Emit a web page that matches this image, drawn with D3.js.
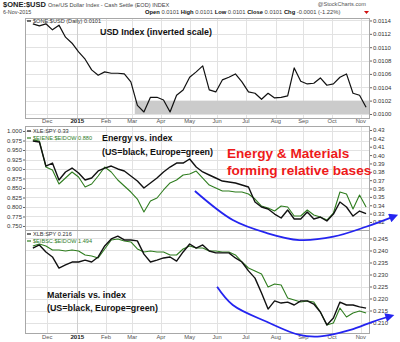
<!DOCTYPE html>
<html><head><meta charset="utf-8">
<script src="https://cdn.jsdelivr.net/npm/d3@7"></script>
<style>
html,body{margin:0;padding:0;background:#fff;}
svg{display:block;font-family:"Liberation Sans",Arial,sans-serif;}
</style></head><body>
<svg id="chart" width="400" height="342"></svg>
<script>
// Weekly (Friday) closes, 14-Nov-2014 .. 6-Nov-2015
const weeks = d3.timeFriday.range(new Date(2014, 10, 14), new Date(2015, 10, 7));

// $ONE:$USD
const usd = [0.01135,0.01132,0.01135,0.01126,0.01133,0.01115,0.01106,0.01093,0.01082,0.01066,
  0.01058,0.01063,0.01061,0.01061,0.01060,0.01048,0.01013,0.01003,0.01025,0.01025,
  0.01021,0.01003,0.01028,0.01036,0.01055,0.01063,0.01072,0.01036,0.01033,0.01051,
  0.01055,0.01060,0.01048,0.01033,0.01031,0.01022,0.01031,0.01024,0.01025,0.01027,
  0.01069,0.01049,0.01045,0.01046,0.01054,0.01043,0.01045,0.01055,0.01060,0.01031,
  0.01028,0.01010];
// XLE:SPY (US energy vs. S&P 500)
const xle = [0.4168,0.4156,0.3869,0.3905,0.3702,0.3798,0.3845,0.3786,0.3702,0.3726,
  0.3810,0.3845,0.3869,0.3834,0.3810,0.3750,0.3690,0.3606,0.3666,0.3726,
  0.3798,0.3857,0.3905,0.3905,0.3953,0.3857,0.3798,0.3762,0.3726,0.3690,
  0.3678,0.3666,0.3642,0.3618,0.3439,0.3379,0.3355,0.3295,0.3248,0.3343,
  0.3236,0.3236,0.3319,0.3236,0.3259,0.3212,0.3295,0.3439,0.3379,0.3271,
  0.3331,0.33];
// $EIENE:$EIDOW (Europe energy vs. Europe index)
const eiene = [1.0887,1.0856,1.0046,0.9952,0.9516,0.9703,0.9890,0.9734,0.9423,0.9516,
  0.9766,1.0046,0.9890,0.9641,0.9454,0.9267,0.9049,0.8644,0.8987,0.9080,
  0.9330,0.9548,0.9641,0.9797,0.9828,0.9921,0.9703,0.9485,0.9392,0.9298,
  0.9298,0.9267,0.9267,0.9205,0.9049,0.8831,0.8769,0.8675,0.8831,0.8800,
  0.8520,0.8520,0.8707,0.8551,0.8489,0.8395,0.8613,0.9267,0.9205,0.8738,
  0.9174,0.880];
// XLB:SPY (US materials vs. S&P 500)
const xlb = [0.2410,0.2423,0.2394,0.2373,0.2327,0.2340,0.2352,0.2352,0.2360,0.2352,
  0.2373,0.2419,0.2448,0.2460,0.2444,0.2444,0.2440,0.2385,0.2352,0.2360,
  0.2369,0.2373,0.2356,0.2394,0.2427,0.2410,0.2423,0.2398,0.2390,0.2390,
  0.2390,0.2369,0.2352,0.2315,0.2285,0.2223,0.2156,0.2190,0.2181,0.2185,
  0.2173,0.2190,0.2190,0.2177,0.2144,0.2090,0.2119,0.2185,0.2173,0.2173,
  0.2165,0.216];
// $EIBSC:$EIDOW (Europe materials vs. Europe index)
const eibsc = [1.6889,1.6948,1.6889,1.6773,1.6773,1.6744,1.6773,1.6744,1.6628,1.6599,
  1.6540,1.6802,1.7064,1.7093,1.7035,1.7006,1.6802,1.6715,1.6744,1.6715,
  1.6715,1.6628,1.6628,1.6802,1.6889,1.6831,1.6831,1.6744,1.6744,1.6715,
  1.6715,1.6628,1.6424,1.6249,1.6162,1.6075,1.5697,1.5784,1.5755,1.5377,
  1.5318,1.5260,1.5289,1.5260,1.4969,1.4591,1.4649,1.5086,1.4824,1.4940,
  1.4998,1.494];

// axis ticks and labels
const monthStarts = d3.timeMonth.range(new Date(2014, 11, 1), new Date(2015, 10, 2));
const monthLabels = ["Dec","2015","Feb","Mar","Apr","May","Jun","Jul","Aug","Sep","Oct","Nov"];
const usdTicks = [0.0100,0.0102,0.0104,0.0106,0.0108,0.0110,0.0112,0.0114];
const xleTicks = [0.32,0.33,0.34,0.35,0.36,0.37,0.38,0.39,0.40,0.41,0.42,0.43];
const midLeftTicks = [0.750,0.775,0.800,0.825,0.850,0.875,0.900,0.925,0.950,0.975,1.000];
const xlbTicks = [0.210,0.215,0.220,0.225,0.230,0.235,0.240,0.245];
// support band on the dollar chart
const band = {from: new Date(2015, 2, 4), lo: 0.0100, hi: 0.0102};

const svg = d3.select("#chart");
const BLUE = "#2424f0", GREEN = "#2f7d1f", GRID = "#e2e2e2";

// trading-day x scale (weekends skipped)
const base = new Date(2014, 10, 6);
const tday = d => d3.timeDay.range(base, d).filter(t => t.getDay() % 6 !== 0).length;
const xs = d3.scaleLinear().domain([0, tday(new Date(2015, 10, 11))]).range([25, 370]);
const x = d => xs(tday(d));
const L = 25, R = 370;

const yUsd = d3.scaleLinear().domain([0.00994, 0.011437]).range([118, 18]);
const yXle = d3.scaleLinear().domain([0.31043, 0.43478]).range([230, 126]);
const yEiene = d3.scaleLinear().domain([0.80844, 1.13228]).range([230, 126]);
const yMidLeft = d3.scaleLinear().domain([0.73947, 1.01316]).range([230, 126]);
const yXlb = d3.scaleLinear().domain([0.20563, 0.24854]).range([333, 230]);
const yEibsc = d3.scaleLinear().domain([1.43584, 1.73545]).range([333, 230]);

const panels = [
  {top: 18, bottom: 118, y: yUsd, grid: usdTicks, ticks: usdTicks, fmt: d3.format(".4f")},
  {top: 126, bottom: 230, y: yMidLeft, grid: midLeftTicks, ticks: xleTicks, ry: yXle, fmt: d3.format(".2f")},
  {top: 230, bottom: 333, y: yXlb, grid: xlbTicks, ticks: xlbTicks, fmt: d3.format(".3f")}
];

const defs = svg.append("defs");
defs.append("marker").attr("id", "ah").attr("viewBox", "0 0 10 10")
  .attr("refX", 3).attr("refY", 5).attr("markerUnits", "userSpaceOnUse")
  .attr("markerWidth", 10).attr("markerHeight", 9).attr("orient", "auto")
  .append("path").attr("d", "M0,0 L10,5 L0,10 z").attr("fill", BLUE);

// panel backgrounds, grids, frames, right axes
panels.forEach((p, i) => {
  const g = svg.append("g");
  g.append("rect").attr("x", L).attr("y", p.top).attr("width", R - L).attr("height", p.bottom - p.top).attr("fill", "#fff");
  g.selectAll(".hg").data(p.grid).join("line")
    .attr("x1", L).attr("x2", R).attr("y1", d => Math.round(p.y(d)) + 0.5).attr("y2", d => Math.round(p.y(d)) + 0.5)
    .attr("stroke", GRID).attr("stroke-width", 1);
  g.selectAll(".vg").data(monthStarts).join("line")
    .attr("x1", d => Math.round(x(d)) + 0.5).attr("x2", d => Math.round(x(d)) + 0.5)
    .attr("y1", p.top).attr("y2", p.bottom)
    .attr("stroke", (d, j) => j === 1 ? "#cfcfcf" : GRID).attr("stroke-width", 1);
  if (i === 0) {
    g.append("rect").attr("x", x(band.from)).attr("width", R - x(band.from))
      .attr("y", yUsd(band.hi)).attr("height", yUsd(band.lo) - yUsd(band.hi)).attr("fill", "#cbcbcb");
  }
  const ry = p.ry || p.y;
  const ax = svg.append("g").attr("transform", `translate(${R},0)`)
    .call(d3.axisRight(ry).tickValues(p.ticks).tickFormat(p.fmt).tickSize(2).tickPadding(1));
  ax.select(".domain").remove();
  ax.selectAll("line").attr("stroke", "#666");
  ax.selectAll("text").attr("font-size", 6).attr("fill", "#333").attr("font-family", "Liberation Sans, Arial, sans-serif");
});

// left axis on the energy panel
const lax = svg.append("g").attr("transform", `translate(${L},0)`)
  .call(d3.axisLeft(yMidLeft).tickValues(midLeftTicks).tickFormat(d3.format(".3f")).tickSize(2).tickPadding(1));
lax.select(".domain").remove();
lax.selectAll("line").attr("stroke", "#666");
lax.selectAll("text").attr("font-size", 6).attr("fill", "#333").attr("font-family", "Liberation Sans, Arial, sans-serif");

// date axes
[122.5, 339].forEach(yy => {
  svg.append("g").selectAll("text").data(monthStarts).join("text")
    .attr("x", d => x(d)).attr("y", yy).attr("text-anchor", "middle")
    .attr("font-size", (d, j) => j === 1 ? 6.2 : 5.8)
    .attr("font-weight", (d, j) => j === 1 ? "bold" : "normal")
    .attr("fill", (d, j) => j === 1 ? "#222" : "#555")
    .text((d, j) => monthLabels[j]);
});

// series lines
const draw = (vals, y, color, w) => svg.append("path")
  .datum(vals.map((v, i) => [weeks[i], v]))
  .attr("fill", "none").attr("stroke", color).attr("stroke-width", w).attr("stroke-linejoin", "round")
  .attr("d", d3.line().x(d => x(d[0])).y(d => y(d[1])));

draw(usd, yUsd, "#111", 1.2);
draw(eiene, yEiene, GREEN, 1.1);
draw(xle, yXle, "#111", 1.4);
draw(eibsc, yEibsc, GREEN, 1.1);
draw(xlb, yXlb, "#111", 1.4);

// frames
panels.forEach(p => svg.append("rect").attr("x", L + 0.5).attr("y", p.top + 0.5)
  .attr("width", R - L - 1).attr("height", p.bottom - p.top).attr("fill", "none").attr("stroke", "#a8a8a8"));

// legends
const legend = (yy, color, label) => {
  svg.append("line").attr("x1", 27).attr("x2", 31).attr("y1", yy - 2).attr("y2", yy - 2).attr("stroke", color).attr("stroke-width", 1.2);
  svg.append("text").attr("x", 33).attr("y", yy).attr("font-size", 5.6).attr("fill", color === "#111" ? "#333" : color).text(label);
};
legend(23, "#111", "$ONE:$USD (Daily) 0.0101");
legend(133, "#111", "XLE:SPY 0.33");
legend(140, GREEN, "$EIENE:$EIDOW 0.880");
legend(236, "#111", "XLB:SPY 0.216");
legend(243, GREEN, "$EIBSC:$EIDOW 1.494");

// header
const h1 = svg.append("text").attr("x", 3).attr("y", 7).attr("fill", "#222");
h1.append("tspan").attr("font-size", 7.5).attr("font-weight", "bold").text("$ONE:$USD ");
h1.append("tspan").attr("font-size", 5.6).attr("fill", "#444").text("One/US Dollar Index - Cash Settle (EOD)  INDEX");
svg.append("text").attr("x", 366).attr("y", 6).attr("text-anchor", "end").attr("font-size", 5.6).attr("fill", "#555").text("@StockCharts.com");
svg.append("text").attr("x", 3).attr("y", 14).attr("font-size", 5.4).attr("fill", "#444").text("6-Nov-2015");
const h2 = svg.append("text").attr("x", 145).attr("y", 14).attr("font-size", 5.8).attr("fill", "#444");
[["Open", "0.0101"], ["High", "0.0101"], ["Low", "0.0101"], ["Close", "0.0101"], ["Chg", "-0.0001 (-1.22%)"]].forEach(([k, v]) => {
  h2.append("tspan").attr("font-weight", "bold").attr("fill", "#111").text(k + " ");
  h2.append("tspan").text(v + "  ");
});
svg.append("path").attr("d", "M364,11 L369,11 L366.5,14 z").attr("fill", "#d01010");

// annotations
const note = (xx, yy, lines, size, color, lead) => {
  const t = svg.append("text").attr("x", xx).attr("y", yy).attr("font-size", size)
    .attr("font-weight", "bold").attr("fill", color);
  lines.forEach((s, i) => t.append("tspan").attr("x", xx).attr("dy", i ? lead : 0).text(s));
};
note(100, 35, ["USD Index (inverted scale)"], 8.9, "#111", 0);
note(102, 141, ["Energy vs. index", "(US=black, Europe=green)"], 8.9, "#111", 14);
note(47, 298, ["Materials vs. index", "(US=black, Europe=green)"], 8.9, "#111", 13);
note(227, 158, ["Energy & Materials", "forming relative bases"], 13.6, "#ee1a1a", 17);

// arrows tracing the basing pattern
const arcMid = [[new Date(2015,4,7), 0.3570], [new Date(2015,5,17), 0.3223], [new Date(2015,6,23), 0.3068],
  [new Date(2015,7,27), 0.2984], [new Date(2015,9,2), 0.3024], [new Date(2015,10,6), 0.3143], [new Date(2015,11,4), 0.3259]];
const arcLow = [[new Date(2015,5,1), 0.2249], [new Date(2015,5,17), 0.2173], [new Date(2015,6,23), 0.2103],
  [new Date(2015,7,27), 0.2048], [new Date(2015,8,18), 0.2042], [new Date(2015,9,21), 0.2069], [new Date(2015,10,13), 0.2103], [new Date(2015,11,1), 0.2124]];
[[arcMid, yXle], [arcLow, yXlb]].forEach(([pts, y]) => {
  svg.append("path").datum(pts).attr("fill", "none").attr("stroke", BLUE).attr("stroke-width", 1.8)
    .attr("marker-end", "url(#ah)")
    .attr("d", d3.line().curve(d3.curveCatmullRom).x(d => x(d[0])).y(d => y(d[1])));
});
</script>
</body></html>
